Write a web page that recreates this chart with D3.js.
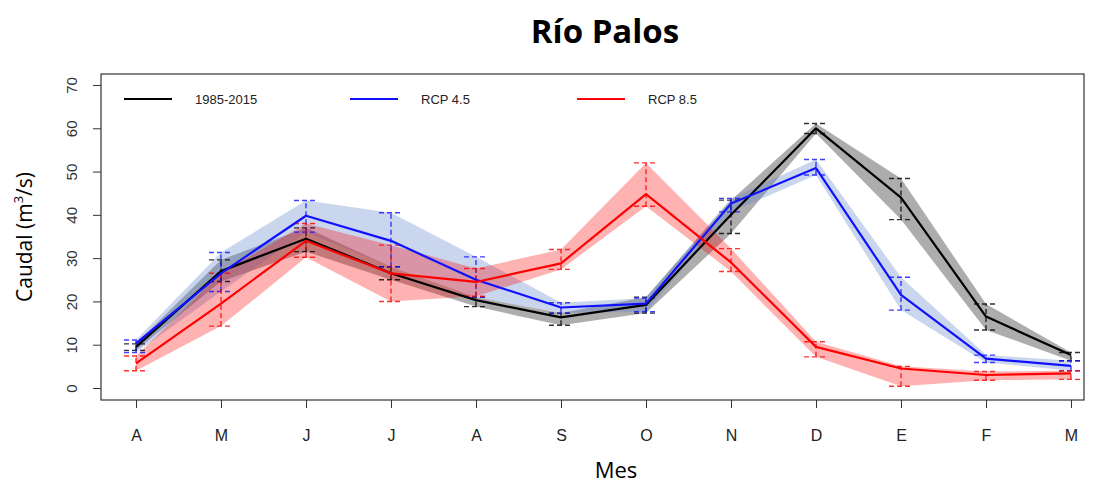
<!DOCTYPE html>
<html>
<head>
<meta charset="utf-8">
<script src="https://cdn.jsdelivr.net/npm/d3@7"></script>
<style>
  body { margin: 0; background: #fff; }
  svg { display: block; }
</style>
</head>
<body>
<svg id="chart" width="1096" height="483"></svg>
<script>
// months, abril -> marzo
const months = ["A", "M", "J", "J", "A", "S", "O", "N", "D", "E", "F", "M"];

// 1985-2015
const histMean = [9.5, 27, 34.5, 26.5, 20.3, 16.3, 19.2, 40, 60, 44, 16.5, 7.6];
const histLow  = [8.7, 24.6, 31.5, 25, 18.8, 14.5, 17.3, 35.7, 58.8, 38.9, 13.4, 6.3];
const histHigh = [10.2, 29.6, 37, 28, 21, 17.3, 21, 43.4, 61.1, 48.4, 19.4, 8.2];

// RCP 4.5
const rcp45Mean = [10.3, 26.5, 39.8, 34, 25, 18.6, 19.5, 42.6, 50.8, 21.5, 6.8, 5.1];
const rcp45Low  = [8.2, 22.3, 36, 28, 21, 17.3, 17.6, 40.7, 49.2, 18, 5.9, 4];
const rcp45High = [11.1, 31.3, 43.3, 40.5, 30.3, 19.7, 20.8, 43.8, 52.8, 25.6, 7.6, 6.3];

// RCP 8.5
const rcp85Mean = [5.7, 19.5, 34, 26.5, 24.5, 28.8, 44.8, 29, 9.5, 4.5, 3, 3.4];
const rcp85Low  = [4, 14.3, 30.2, 20, 21.2, 27.4, 42, 26.9, 7.2, 0.4, 1.8, 2];
const rcp85High = [7.4, 26.5, 38, 33, 27.6, 32, 52, 32.2, 10.7, 5, 3.8, 4];

const yTicks = [0, 10, 20, 30, 40, 50, 60, 70];

const series = [
  { name: "1985-2015", mean: histMean, low: histLow, high: histHigh, line: "#000000", band: "rgba(0,0,0,0.32)" },
  { name: "RCP 4.5", mean: rcp45Mean, low: rcp45Low, high: rcp45High, line: "#1010ff", band: "rgba(90,130,200,0.33)" },
  { name: "RCP 8.5", mean: rcp85Mean, low: rcp85Low, high: rcp85High, line: "#ff0000", band: "rgba(255,0,0,0.3)" }
];

const svg = d3.select("#chart");
const box = { left: 101, right: 1084, top: 74, bottom: 400 };

const x = d3.scaleLinear().domain([0, 11]).range([136, 1071]);
const y = d3.scaleLinear().domain([0, 70]).range([388, 85]);

// title
svg.append("text")
  .attr("x", 605).attr("y", 43)
  .attr("text-anchor", "middle")
  .attr("font-family", "'Open Sans', sans-serif")
  .attr("font-weight", "bold")
  .attr("font-size", 33)
  .text("Río Palos");

const g = svg.append("g");

// bands
const area = d3.area()
  .x((d, i) => x(i))
  .y0((d) => y(d[0]))
  .y1((d) => y(d[1]));

series.forEach((s) => {
  g.append("path")
    .datum(s.low.map((v, i) => [v, s.high[i]]))
    .attr("d", area)
    .attr("fill", s.band)
    .attr("stroke", "none");
});

// error bars
series.forEach((s) => {
  const eb = g.append("g")
    .attr("stroke", s.line)
    .attr("stroke-width", 1.4)
    .attr("stroke-dasharray", "5,3")
    .attr("opacity", 0.8);
  s.mean.forEach((m, i) => {
    eb.append("line")
      .attr("x1", x(i)).attr("x2", x(i))
      .attr("y1", y(s.low[i])).attr("y2", y(s.high[i]));
    [s.low[i], s.high[i]].forEach((v) => {
      eb.append("line")
        .attr("x1", x(i) - 12).attr("x2", x(i) + 12)
        .attr("y1", y(v)).attr("y2", y(v));
    });
  });
});

// lines
const line = d3.line()
  .x((d, i) => x(i))
  .y((d) => y(d));

series.forEach((s) => {
  g.append("path")
    .datum(s.mean)
    .attr("d", line)
    .attr("fill", "none")
    .attr("stroke", s.line)
    .attr("stroke-width", 2.2)
    .attr("stroke-linejoin", "round");
});

// plot box
svg.append("rect")
  .attr("x", box.left).attr("y", box.top)
  .attr("width", box.right - box.left)
  .attr("height", box.bottom - box.top)
  .attr("fill", "none")
  .attr("stroke", "#333")
  .attr("stroke-width", 1.2);

// x axis
const xAxis = svg.append("g")
  .attr("transform", `translate(0,${box.bottom})`)
  .call(d3.axisBottom(x).tickValues(d3.range(12)).tickFormat((i) => months[i]).tickSize(8).tickPadding(22));
xAxis.select(".domain").remove();
xAxis.selectAll("line").attr("stroke", "#333");
xAxis.selectAll("text")
  .attr("font-family", "'Liberation Sans', Arial, sans-serif")
  .attr("font-size", 16)
  .attr("fill", "#222");

// y axis
const yAxis = svg.append("g")
  .attr("transform", `translate(${box.left},0)`)
  .call(d3.axisLeft(y).tickValues(yTicks).tickSize(8).tickPadding(0));
yAxis.select(".domain").remove();
yAxis.selectAll("line").attr("stroke", "#333");
yAxis.selectAll("text")
  .attr("font-family", "'Liberation Sans', Arial, sans-serif")
  .attr("font-size", 15)
  .attr("fill", "#333")
  .attr("x", null).attr("dy", null)
  .attr("text-anchor", "middle")
  .attr("transform", "translate(-29,0) rotate(-90) translate(0,5)");

// axis titles
svg.append("text")
  .attr("transform", "translate(32,237) rotate(-90)")
  .attr("text-anchor", "middle")
  .attr("font-family", "'Open Sans', sans-serif")
  .attr("font-size", 21)
  .call((t) => {
    t.append("tspan").text("Caudal (m");
    t.append("tspan").attr("baseline-shift", "super").attr("font-size", 13).text("3");
    t.append("tspan").text("/s)");
  });

svg.append("text")
  .attr("x", 616).attr("y", 478)
  .attr("text-anchor", "middle")
  .attr("font-family", "'Open Sans', sans-serif")
  .attr("font-size", 22)
  .text("Mes");

// legend
const legend = svg.append("g");
const legendX = [124, 350, 577];
series.forEach((s, i) => {
  legend.append("line")
    .attr("x1", legendX[i]).attr("x2", legendX[i] + 48)
    .attr("y1", 99).attr("y2", 99)
    .attr("stroke", s.line)
    .attr("stroke-width", 2.2);
  legend.append("text")
    .attr("x", legendX[i] + 71).attr("y", 104)
    .attr("font-family", "'Liberation Sans', Arial, sans-serif")
    .attr("font-size", 13)
    .attr("fill", "#222")
    .text(s.name);
});
</script>
</body>
</html>
